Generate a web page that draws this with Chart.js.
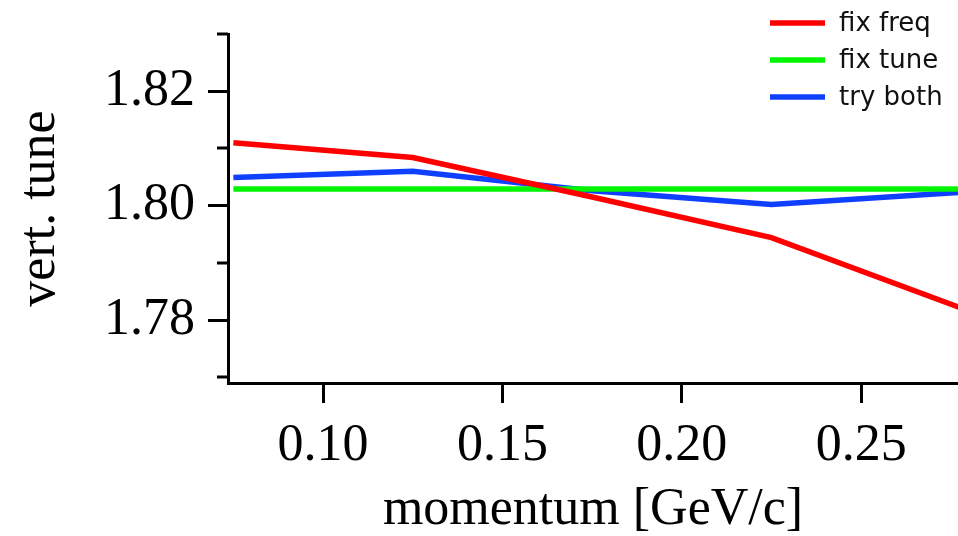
<!DOCTYPE html>
<html lang="en">
<head>
  <meta charset="UTF-8" />
  <title>vert. tune vs momentum</title>
  <script src="https://cdn.jsdelivr.net/npm/chart.js"></script>
  <style>
    html, body { margin: 0; padding: 0; background: #fff; }
    #wrap { width: 958px; height: 536px; position: relative; }
  </style>
</head>
<body>
<div id="wrap"><canvas id="tuneChart"></canvas></div>
<script>
  // momentum points [GeV/c] and the vertical tune for each scheme
  const momentum = [0.075, 0.125, 0.175, 0.225, 0.28];
  const fixFreq  = [1.811, 1.8084, 1.8015, 1.7944, 1.7816];
  const fixTune  = [1.8029, 1.8029, 1.8029, 1.8029, 1.8029];
  const tryBoth  = [1.8049, 1.806, 1.8026, 1.8002, 1.8024];

  const seriesNames = ['fix freq', 'fix tune', 'try both'];
  const xMajor = [0.10, 0.15, 0.20, 0.25];
  const yMajor = [1.78, 1.80, 1.82];
  const yMinor = [1.77, 1.79, 1.81, 1.83];

  const serif = "'Liberation Serif', 'Times New Roman', serif";
  const toXY = ys => ys.map((y, i) => ({ x: momentum[i], y }));

  // short minor ticks on the left axis
  const minorTicks = {
    id: 'minorTicks',
    afterDraw(chart) {
      const y = chart.scales.y, ctx = chart.ctx;
      ctx.save();
      ctx.strokeStyle = '#000';
      ctx.lineWidth = 3;
      yMinor.forEach(v => {
        const py = Math.round(y.getPixelForValue(v));
        ctx.beginPath();
        ctx.moveTo(y.right - 11, py);
        ctx.lineTo(y.right, py);
        ctx.stroke();
      });
      ctx.restore();
    }
  };

  // line-sample legend in the top right corner
  const cornerLegend = {
    id: 'cornerLegend',
    afterDraw(chart) {
      const ctx = chart.ctx;
      ctx.save();
      ctx.font = "26px 'DejaVu Sans', sans-serif";
      ctx.textBaseline = 'middle';
      ctx.fillStyle = '#111';
      chart.data.datasets.forEach((ds, i) => {
        const ly = 23 + i * 37;
        ctx.strokeStyle = ds.borderColor;
        ctx.lineWidth = 5.5;
        ctx.beginPath();
        ctx.moveTo(770, ly);
        ctx.lineTo(825, ly);
        ctx.stroke();
        ctx.fillText(ds.label, 839, ly + 1);
      });
      ctx.restore();
    }
  };

  const lineStyle = color => ({
    borderColor: color,
    borderWidth: 5.5,
    pointRadius: 0,
    fill: false,
    tension: 0
  });

  new Chart(document.getElementById('tuneChart'), {
    type: 'line',
    data: {
      datasets: [
        { label: seriesNames[0], data: toXY(fixFreq), ...lineStyle('#ff0000') },
        { label: seriesNames[1], data: toXY(fixTune), ...lineStyle('#00f500') },
        { label: seriesNames[2], data: toXY(tryBoth), ...lineStyle('#1040ff') }
      ]
    },
    options: {
      responsive: true,
      maintainAspectRatio: false,
      animation: false,
      layout: { padding: { top: 34, right: 0, left: 0, bottom: 0 } },
      plugins: { legend: { display: false }, tooltip: { enabled: false } },
      scales: {
        x: {
          type: 'linear',
          min: 0.0735,
          max: 0.277,
          afterFit(scale) {
            scale.height = 153;
            scale.paddingLeft = 0;
            scale.paddingRight = 0;
          },
          afterBuildTicks(scale) { scale.ticks = xMajor.map(v => ({ value: v })); },
          border: { display: true, color: '#000', width: 3 },
          grid: { drawOnChartArea: false, drawTicks: true, tickLength: 20, color: '#000', lineWidth: 3 },
          ticks: {
            color: '#000',
            padding: 12,
            maxRotation: 0,
            font: { family: serif, size: 52 },
            callback: v => v.toFixed(2)
          },
          title: {
            display: true,
            text: 'momentum [GeV/c]',
            color: '#000',
            font: { family: serif, size: 52, lineHeight: 1 },
            padding: { top: 0, bottom: 0 }
          }
        },
        y: {
          type: 'linear',
          min: 1.769,
          max: 1.83,
          afterFit(scale) {
            scale.width = 228;
            scale.paddingTop = 0;
            scale.paddingBottom = 0;
          },
          afterBuildTicks(scale) { scale.ticks = yMajor.map(v => ({ value: v })); },
          border: { display: true, color: '#000', width: 3 },
          grid: { drawOnChartArea: false, drawTicks: true, tickLength: 20, color: '#000', lineWidth: 3 },
          ticks: {
            color: '#000',
            padding: 13,
            font: { family: serif, size: 52 },
            callback: v => v.toFixed(2)
          },
          title: {
            display: true,
            text: 'vert. tune',
            color: '#000',
            font: { family: serif, size: 52, lineHeight: 1 },
            padding: { top: 14, bottom: 0 }
          }
        }
      }
    },
    plugins: [minorTicks, cornerLegend]
  });
</script>
</body>
</html>
